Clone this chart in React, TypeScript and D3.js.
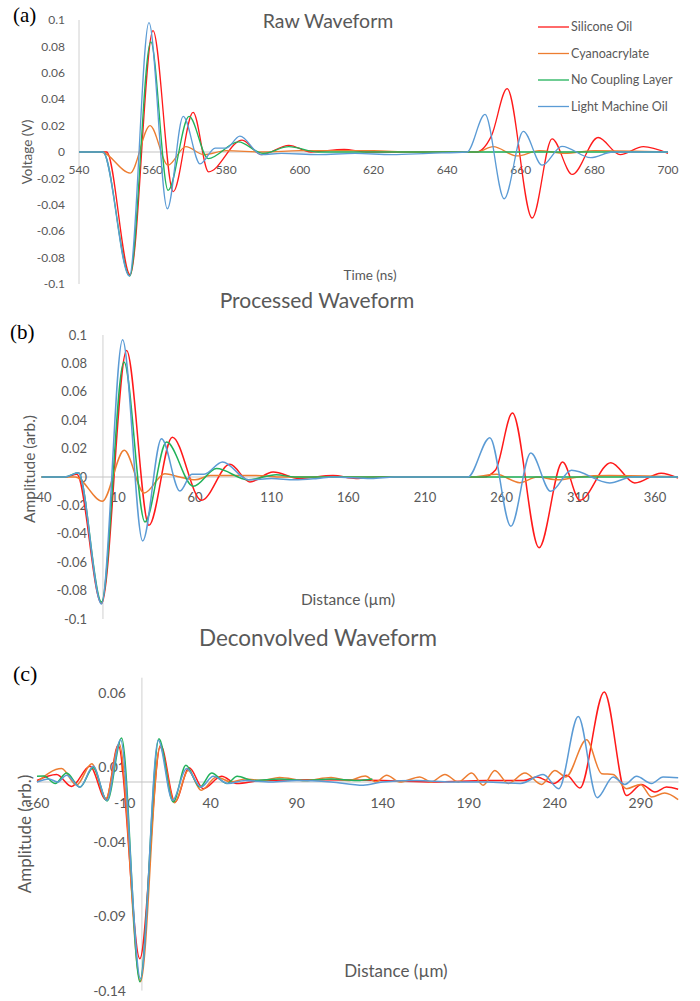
import React, { useEffect, useRef } from "react";
import * as d3 from "d3";

type Pt = [number, number];

const seriesNames = ["Silicone Oil", "Cyanoacrylate", "No Coupling Layer", "Light Machine Oil"];
const seriesColors = ["#FF1A1A", "#ED7D31", "#21B25A", "#5B9BD5"];

// (a) Raw Waveform — time (ns), voltage (V)
const rawSilicone: Pt[] = [
  [540, 0], [547.5, 0], [553.9, -0.093], [560.1, 0.092], [565.6, -0.03], [571, 0.03], [575.2, -0.015],
  [584.3, 0.009], [589.5, -0.002], [597, 0.005], [603, 0], [612, 0.002], [618, 0], [648, 0], [652, 0.012],
  [656.3, 0.048], [663.1, -0.05], [668.5, 0.01], [674, -0.017], [681, 0.011], [687, -0.002], [693.3, 0.004], [700, -0.001],
];
const rawCyano: Pt[] = [
  [540, 0], [546, 0], [553.9, -0.016], [559.3, 0.02], [564.2, -0.01], [569, 0.004], [574, -0.002], [580, 0.001],
  [590, 0], [600, 0.001], [620, 0.001], [630, 0], [648, 0], [652.5, 0.004], [659, -0.003], [665, 0.001],
  [672, -0.001], [680, 0.001], [700, 0],
];
const rawNoCoupling: Pt[] = [
  [540, 0], [546.5, 0], [553.8, -0.094], [559.5, 0.0835], [564.2, -0.029], [569.9, 0.027], [575.1, -0.005],
  [583.3, 0.0076], [590, -0.001], [597, 0.004], [605, 0], [700, 0],
];
const rawMachineOil: Pt[] = [
  [540, 0], [546.5, 0], [553.7, -0.094], [559, 0.098], [564, -0.043], [568.3, 0.027], [572.9, -0.009],
  [577, 0.003], [580, 0.003], [583.7, 0.012], [589.5, -0.002], [595, -0.001], [605, -0.002], [615, -0.001],
  [625, -0.002], [635, -0.001], [645.4, 0], [650.3, 0.0285], [655.5, -0.0354], [660.7, 0.0157], [665.8, -0.01],
  [671.2, 0.0043], [679, -0.0043], [685, 0], [700, 0],
];

// (b) Processed Waveform — distance (µm), amplitude
const procSilicone: Pt[] = [
  [-40, 0], [-24, 0], [-17, 0.002], [-0.9, -0.089], [15.4, 0.089], [30, -0.034], [45.2, 0.028], [64.3, -0.0164],
  [82.8, 0.0089], [95.8, -0.0035], [111, 0.0035], [128, -0.001], [150, 0.001], [165, -0.001], [180, 0], [240, 0],
  [248, 0], [256, 0.005], [267, 0.045], [284.4, -0.0498], [299.7, 0.0106], [311, -0.0164], [331.2, 0.0101],
  [346.8, -0.0042], [364, 0.0026], [375, -0.0007],
];
const procCyano: Pt[] = [
  [-40, 0], [-18, 0], [-0.4, -0.0171], [13.9, 0.0188], [26.9, -0.0113], [40.4, 0.0023], [50, 0], [60, -0.002],
  [70, 0.001], [100, 0.001], [115, 0], [240, 0], [256.6, 0.0019], [271.8, -0.004], [283, 0], [297, -0.002],
  [310, 0], [330, 0.001], [375, 0],
];
const procNoCoupling: Pt[] = [
  [-40, 0], [-25, 0], [-16, 0.003], [-0.9, -0.088], [13.7, 0.081], [27.4, -0.0317], [41.5, 0.0246],
  [58.9, -0.0066], [74.1, 0.0059], [94.7, -0.002], [113, 0.0016], [125, 0], [375, 0],
];
const procMachineOil: Pt[] = [
  [-40, 0], [-25, 0], [-16, 0.003], [-0.9, -0.0895], [12.8, 0.0967], [25.9, -0.045], [38.2, 0.027],
  [50.2, -0.0099], [58, 0.002], [66, 0.002], [78, 0.0106], [95, -0.002], [110, -0.001], [125, -0.002],
  [140, -0.001], [150, 0], [175, -0.001], [190, 0], [238, 0], [252.3, 0.0277], [266, -0.0347], [279, 0.0169],
  [292, -0.0101], [305.5, 0.0047], [330.5, -0.0042], [345, 0], [375, 0],
];

// (c) Deconvolved Waveform — distance (µm), amplitude
const decSilicone: Pt[] = [
  [-61, 0.001], [-49.6, 0.005], [-40.9, -0.003], [-30.2, 0.0105], [-20.9, -0.0119], [-13.8, 0.0246],
  [-1.2, -0.1186], [10.9, 0.0246], [19.2, -0.0134], [27.5, 0.0096], [35.7, -0.0045], [46.3, 0.0038],
  [55, -0.001], [70, 0.001], [100, 0.0015], [140, 0.001], [170, 0], [200, 0.001], [222, 0.001],
  [229.5, 0.0034], [239.5, -0.001], [247, 0.0045], [254.7, -0.004], [268.8, 0.0604], [281.8, -0.009],
  [290.5, -0.0016], [298.3, -0.0067], [305, -0.0034], [311.8, -0.0049],
];
const decCyano: Pt[] = [
  [-61, 0], [-46.7, 0.009], [-38, -0.002], [-29.2, 0.0123], [-20.9, -0.011], [-13.2, 0.0257], [-0.8, -0.134],
  [10.5, 0.0235], [19, -0.0139], [26.9, 0.0078], [34.5, -0.0056], [43.4, 0.0034], [52, 0], [60, 0.002],
  [70, 0.001], [80, 0.003], [95, 0.001], [110, 0.003], [120, 0.001], [129.9, 0.004], [136, 0], [142.3, 0.0045],
  [150, 0], [161.6, 0.0034], [168, 0], [176.2, 0.005], [184, 0], [191.7, 0.006], [198.4, -0.0022],
  [205.2, 0.0078], [213, -0.001], [222.7, 0.006], [232.4, -0.0016], [240.1, 0.0078], [246.5, 0.0034],
  [258.5, 0.0284], [267.3, 0.0056], [274, 0.005], [281.8, -0.0045], [289.9, -0.0016], [296.3, -0.01],
  [304, -0.0074], [311.8, -0.0118],
];
const decNoCoupling: Pt[] = [
  [-61, 0.0038], [-57, 0.004], [-50.4, -0.001], [-43.8, 0.006], [-36, -0.0034], [-28.3, 0.0096],
  [-20.2, -0.0128], [-11.8, 0.0295], [-1.2, -0.134], [9.9, 0.029], [18.2, -0.0134], [25.6, 0.0112],
  [33.7, -0.0034], [40.5, 0.006], [49.3, -0.001], [55.4, 0.0038], [65, 0.001], [80, 0.002], [95, 0.001],
  [110, 0.002], [125, 0.001], [134, 0.002],
];
const decMachineOil: Pt[] = [
  [-61, 0], [-54, 0.002], [-49, 0], [-43.8, 0.0045], [-36, -0.0034], [-28.3, 0.0105], [-20.4, -0.0123],
  [-12.4, 0.0284], [-0.8, -0.132], [9.5, 0.028], [17.8, -0.0123], [26, 0.009], [34.3, -0.0034], [41.5, 0.0038],
  [50, -0.001], [60, 0.001], [75, 0], [90, 0.001], [110, 0], [128.7, -0.0022], [140, 0], [160, 0.001],
  [180, 0], [200, 0], [220, -0.001], [233.3, 0.005], [242.4, -0.0045], [253.7, 0.044], [264.7, -0.0105],
  [274, 0.0034], [280.8, -0.0016], [287.6, 0.0038], [296.3, -0.001], [303, 0.0034], [311.8, 0.0029],
];

const rawXTicks = [540, 560, 580, 600, 620, 640, 660, 680, 700];
const rawYTicks = [0.1, 0.08, 0.06, 0.04, 0.02, 0, -0.02, -0.04, -0.06, -0.08, -0.1];
const procXTicks = [-40, 10, 60, 110, 160, 210, 260, 310, 360];
const procYTicks = [0.1, 0.08, 0.06, 0.04, 0.02, 0, -0.02, -0.04, -0.06, -0.08, -0.1];
const decXTicks = [-60, -10, 40, 90, 140, 190, 240, 290];
const decYTicks = [0.06, 0.01, -0.04, -0.09, -0.14];

const FONT = "Lato, 'Open Sans', sans-serif";
const GREY = "#595959";

const panels = [
  {
    label: "(a)", labelPos: [13, 22], labelSize: 21,
    title: "Raw Waveform", titlePos: [328, 28], titleSize: 19.5,
    xTitle: "Time (ns)", xTitlePos: [370, 280], yTitle: "Voltage (V)", yTitlePos: [27, 152], axisFont: 13.5,
    xDomain: [540, 700], xRange: [79, 668], yDomain: [-0.1, 0.1], yRange: [284, 20], axisX: 540,
    xTicks: rawXTicks, yTicks: rawYTicks, xTickY: 174, yTickX: 65, tickFont: 12,
    series: [rawSilicone, rawCyano, rawNoCoupling, rawMachineOil], lineWidth: 1.3,
  },
  {
    label: "(b)", labelPos: [10, 339], labelSize: 21,
    title: "Processed Waveform", titlePos: [317, 308], titleSize: 21,
    xTitle: "Distance (µm)", xTitlePos: [348, 605], yTitle: "Amplitude (arb.)", yTitlePos: [30, 469], axisFont: 15.5,
    xDomain: [-40, 375], xRange: [41.6, 678], yDomain: [-0.1, 0.1], yRange: [619, 335], axisX: 0,
    xTicks: procXTicks, yTicks: procYTicks, xTickY: 502, yTickX: 87, tickFont: 13,
    series: [procSilicone, procCyano, procNoCoupling, procMachineOil], lineWidth: 1.5,
  },
  {
    label: "(c)", labelPos: [13, 681], labelSize: 22,
    title: "Deconvolved Waveform", titlePos: [318, 646], titleSize: 22.5,
    xTitle: "Distance (µm)", xTitlePos: [396, 977], yTitle: "Amplitude (arb.)", yTitlePos: [25, 834], axisFont: 17,
    xDomain: [-61, 312], xRange: [37, 678.5], yDomain: [-0.14, 0.07], yRange: [990.6, 677.7], axisX: 0,
    xTicks: decXTicks, yTicks: decYTicks, xTickY: 808, yTickX: 126, tickFont: 14,
    series: [decSilicone, decCyano, decNoCoupling, decMachineOil], lineWidth: 1.5,
  },
];

const App = () => {
  const svgRef = useRef<SVGSVGElement>(null);

  useEffect(() => {
    const svg = d3.select(svgRef.current);
    svg.selectAll("*").remove();

    panels.forEach((p) => {
      const g = svg.append("g");
      const x = d3.scaleLinear().domain(p.xDomain).range(p.xRange);
      const y = d3.scaleLinear().domain(p.yDomain).range(p.yRange);

      // vertical axis
      g.append("line")
        .attr("x1", x(p.axisX)).attr("x2", x(p.axisX))
        .attr("y1", y(p.yDomain[1])).attr("y2", y(p.yDomain[0]))
        .attr("stroke", "#d0d0d0").attr("stroke-width", 1);
      // zero line
      g.append("line")
        .attr("x1", x(p.xDomain[0])).attr("x2", x(p.xDomain[1]))
        .attr("y1", y(0)).attr("y2", y(0))
        .attr("stroke", "#c4c4c4").attr("stroke-width", 1.2);

      g.selectAll(".ytick").data(p.yTicks).enter().append("text")
        .attr("x", p.yTickX).attr("y", (d) => y(d)).attr("dy", "0.35em")
        .attr("text-anchor", "end").attr("font-size", p.tickFont).attr("font-family", FONT).attr("fill", GREY)
        .text((d) => String(+d.toFixed(2)));

      g.selectAll(".xtick").data(p.xTicks).enter().append("text")
        .attr("x", (d) => x(d)).attr("y", p.xTickY)
        .attr("text-anchor", "middle").attr("font-size", p.tickFont).attr("font-family", FONT).attr("fill", GREY)
        .text((d) => String(d));

      const line = d3.line<Pt>().x((d) => x(d[0])).y((d) => y(d[1])).curve(d3.curveMonotoneX);
      p.series.forEach((s, i) => {
        g.append("path").datum(s).attr("d", line)
          .attr("fill", "none").attr("stroke", seriesColors[i]).attr("stroke-width", p.lineWidth)
          .attr("stroke-linejoin", "round");
      });

      g.append("text").attr("x", p.titlePos[0]).attr("y", p.titlePos[1])
        .attr("text-anchor", "middle").attr("font-size", p.titleSize).attr("font-family", FONT).attr("fill", GREY)
        .text(p.title);
      g.append("text").attr("x", p.xTitlePos[0]).attr("y", p.xTitlePos[1])
        .attr("text-anchor", "middle").attr("font-size", p.axisFont).attr("font-family", FONT).attr("fill", GREY)
        .text(p.xTitle);
      g.append("text")
        .attr("transform", `translate(${p.yTitlePos[0]},${p.yTitlePos[1]}) rotate(-90)`)
        .attr("dy", "0.35em")
        .attr("text-anchor", "middle").attr("font-size", p.axisFont).attr("font-family", FONT).attr("fill", GREY)
        .text(p.yTitle);
      g.append("text").attr("x", p.labelPos[0]).attr("y", p.labelPos[1])
        .attr("font-size", p.labelSize).attr("font-family", "'Liberation Serif', 'Times New Roman', serif")
        .attr("fill", "#000").text(p.label);
    });

    // legend in panel (a)
    const legend = svg.append("g");
    seriesNames.forEach((name, i) => {
      const ly = 27 + i * 26.5;
      legend.append("line").attr("x1", 538).attr("x2", 569).attr("y1", ly).attr("y2", ly)
        .attr("stroke", seriesColors[i]).attr("stroke-width", 1.3);
      legend.append("text").attr("x", 571).attr("y", ly).attr("dy", "0.35em")
        .attr("font-size", 12.5).attr("font-family", FONT).attr("fill", GREY).text(name);
    });
  }, []);

  return (
    <svg ref={svgRef} width={700} height={1001}
      style={{ position: "absolute", left: 0, top: 0, background: "#fff" }} />
  );
};

export default App;
